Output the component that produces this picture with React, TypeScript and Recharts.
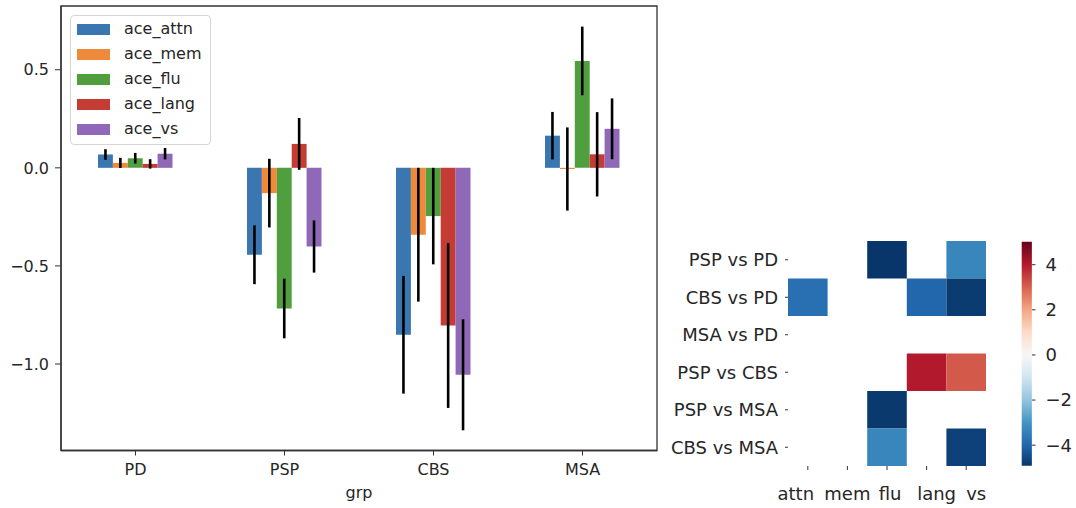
import React from "react";
import {
  Bar,
  BarChart,
  ErrorBar,
  Legend,
  ReferenceArea,
  Scatter,
  ScatterChart,
  XAxis,
  YAxis,
} from "recharts";

// ---- left panel: group means with error bars ----
const groups = ["PD", "PSP", "CBS", "MSA"];
const seriesKeys = ["ace_attn", "ace_mem", "ace_flu", "ace_lang", "ace_vs"];
const seriesColors = ["#3a76b0", "#f08a3b", "#519e3f", "#c53c34", "#8f69b8"];

const aceAttn = [0.068, -0.443, -0.851, 0.164];
const aceAttnErr = [0.027, 0.15, 0.3, 0.121];
const aceMem = [0.025, -0.129, -0.341, -0.006];
const aceMemErr = [0.026, 0.175, 0.341, 0.212];
const aceFlu = [0.049, -0.717, -0.246, 0.545];
const aceFluErr = [0.027, 0.152, 0.246, 0.175];
const aceLang = [0.02, 0.122, -0.804, 0.069];
const aceLangErr = [0.024, 0.132, 0.42, 0.215];
const aceVs = [0.072, -0.401, -1.055, 0.199];
const aceVsErr = [0.029, 0.133, 0.283, 0.155];

const yTicks = [-1, -0.5, 0, 0.5];
const Y_MIN = -1.441;
const Y_MAX = 0.825;

// ---- right panel: heatmap of contrasts ----
const contrasts = ["PSP vs PD", "CBS vs PD", "MSA vs PD", "PSP vs CBS", "PSP vs MSA", "CBS vs MSA"];
const domains = ["attn", "mem", "flu", "lang", "vs"];
const tValues: (number | null)[][] = [
  [null, null, -4.9, null, -3.3],
  [-3.8, null, null, -4.0, -4.8],
  [null, null, null, null, null],
  [null, null, null, 4.0, 3.1],
  [null, null, -4.85, null, null],
  [null, null, -3.3, null, -4.7],
];
const cbarTicks = [-4, -2, 0, 2, 4];
const CB_MIN = -4.91;
const CB_MAX = 5.02;

const means = [aceAttn, aceMem, aceFlu, aceLang, aceVs];
const errs = [aceAttnErr, aceMemErr, aceFluErr, aceLangErr, aceVsErr];

const barData = groups.map((grp, i) => {
  const row: Record<string, string | number> = { grp };
  seriesKeys.forEach((k, s) => {
    row[k] = means[s][i];
    row[k + "_err"] = errs[s][i];
  });
  return row;
});

const cells: { x: number; y: number; v: number }[] = [];
tValues.forEach((r, y) =>
  r.forEach((v, x) => {
    if (v !== null) cells.push({ x, y, v });
  })
);

const cbarData = [{ c: "cbar", range: [CB_MIN, CB_MAX] }];

const TEXT = "#262626";
const fmt = (v: number) => (v < 0 ? "\u2212" : "") + Math.abs(v).toFixed(1);
const fmtInt = (v: number) => (v < 0 ? "\u2212" : "") + Math.abs(v);

// RdBu_r, centred on zero
const rdbu = ["#053061", "#2166ac", "#4393c3", "#92c5de", "#d1e5f0", "#f7f7f7", "#fddbc7", "#f4a582", "#d6604d", "#b2182b", "#67001f"];
const VR = Math.max(CB_MAX, -CB_MIN);
const hex = (h: string) => [1, 3, 5].map((i) => parseInt(h.slice(i, i + 2), 16));
function cmap(v: number) {
  const t = Math.min(1, Math.max(0, (v + VR) / (2 * VR)));
  const p = t * 10;
  const i = Math.min(9, Math.floor(p));
  const f = p - i;
  const a = hex(rdbu[i]);
  const b = hex(rdbu[i + 1]);
  const c = a.map((x, j) => Math.round(x + (b[j] - x) * f));
  return `rgb(${c[0]},${c[1]},${c[2]})`;
}

const HM_W = 198;
const HM_H = 225;
const cellW = HM_W / domains.length;
const cellH = HM_H / contrasts.length;

const renderCell = (props: any) => {
  const { cx, cy, payload } = props;
  return <rect x={cx - cellW / 2} y={cy - cellH / 2} width={cellW} height={cellH} fill={cmap(payload.v)} />;
};

const labelShift = [-12, 0, 3, 10, 10];
const HeatXTick = (props: any) => {
  const { x, y, payload } = props;
  const i = payload.value;
  return (
    <text x={x + labelShift[i]} y={y + 29.5} textAnchor="middle" fontSize={18} fill={TEXT}>
      {domains[i]}
    </text>
  );
};

const LegendBox = () => (
  <div
    style={{
      position: "relative",
      width: 141,
      height: 130,
      boxSizing: "border-box",
      border: "1px solid #d6d6d6",
      borderRadius: 4,
      background: "rgba(255,255,255,0.85)",
      fontSize: 16,
      color: TEXT,
    }}
  >
    {seriesKeys.map((k, i) => (
      <div key={k} style={{ position: "absolute", left: 0, top: 1 + i * 25, height: 25, width: "100%" }}>
        <div style={{ position: "absolute", left: 6, top: 6.5, width: 33, height: 11.5, background: seriesColors[i] }} />
        <div style={{ position: "absolute", left: 53, top: 2, lineHeight: "19px", whiteSpace: "nowrap" }}>{k}</div>
      </div>
    ))}
  </div>
);

export default function App() {
  return (
    <div
      style={{
        position: "absolute",
        left: 0,
        top: 0,
        width: 1076,
        height: 508,
        background: "#fff",
        fontFamily: "'DejaVu Sans', sans-serif",
      }}
    >
      <svg width={0} height={0} style={{ position: "absolute" }}>
        <defs>
          <linearGradient id="cbar" x1="0" y1="0" x2="0" y2="1">
            {Array.from({ length: 41 }, (_, i) => (
              <stop key={i} offset={i / 40} stopColor={cmap(CB_MAX - ((CB_MAX - CB_MIN) * i) / 40)} />
            ))}
          </linearGradient>
        </defs>
      </svg>

      <div style={{ position: "absolute", left: 0, top: 0 }}>
        <BarChart
          width={680}
          height={508}
          data={barData}
          margin={{ top: 6, right: 23, bottom: 0, left: 0 }}
          barCategoryGap="25%"
          barGap={0}
        >
          <XAxis
            dataKey="grp"
            height={57.5}
            tickSize={5}
            tickMargin={8}
            axisLine={{ stroke: "#333", strokeWidth: 1.3 }}
            tickLine={{ stroke: "#333" }}
            tick={{ fontSize: 16, fill: TEXT }}
            label={{ value: "grp", position: "insideBottom", offset: 10, fontSize: 16, fill: TEXT }}
          />
          <YAxis
            type="number"
            domain={[Y_MIN, Y_MAX]}
            ticks={yTicks}
            width={61}
            tickSize={6}
            tickMargin={6}
            tickFormatter={fmt}
            axisLine={{ stroke: "#333", strokeWidth: 1.3 }}
            tickLine={{ stroke: "#333" }}
            tick={{ fontSize: 16, fill: TEXT }}
          />
          {seriesKeys.map((k, i) => (
            <Bar key={k} dataKey={k} fill={seriesColors[i]} barSize={14.9} isAnimationActive={false}>
              <ErrorBar dataKey={k + "_err"} width={0} stroke="#000" strokeWidth={2.6} />
            </Bar>
          ))}
          <ReferenceArea y1={Y_MIN} y2={Y_MAX} fill="none" stroke="#333" strokeWidth={1.3} />
          <Legend
            layout="vertical"
            align="center"
            verticalAlign="middle"
            content={() => <LegendBox />}
            wrapperStyle={{ left: 70, top: 15, width: 141, height: 130 }}
          />
        </BarChart>
      </div>

      <div style={{ position: "absolute", left: 660, top: 220 }}>
        <ScatterChart width={340} height={288} margin={{ top: 21, right: 14, bottom: 0, left: 0 }}>
          <XAxis
            type="number"
            dataKey="x"
            domain={[-0.5, 4.5]}
            ticks={[0, 1, 2, 3, 4]}
            interval={0}
            height={42}
            axisLine={false}
            tickSize={4}
            tickMargin={0}
            tickLine={{ stroke: "#333" }}
            tick={<HeatXTick />}
          />
          <YAxis
            type="number"
            dataKey="y"
            domain={[-0.5, 5.5]}
            reversed
            ticks={[0, 1, 2, 3, 4, 5]}
            interval={0}
            width={128}
            axisLine={false}
            tickSize={3}
            tickMargin={7}
            tickLine={{ stroke: "#333" }}
            tickFormatter={(i: number) => contrasts[i]}
            tick={{ fontSize: 18, fill: TEXT }}
          />
          <Scatter data={cells} shape={renderCell} isAnimationActive={false} />
        </ScatterChart>
      </div>

      <div style={{ position: "absolute", left: 1000, top: 220 }}>
        <BarChart
          width={76}
          height={288}
          data={cbarData}
          margin={{ top: 21.7, right: 0, bottom: 42.3, left: 20.7 }}
          barCategoryGap={0}
        >
          <XAxis dataKey="c" hide />
          <YAxis
            type="number"
            orientation="right"
            domain={[CB_MIN, CB_MAX]}
            ticks={cbarTicks}
            interval={0}
            width={44}
            axisLine={false}
            tickSize={3.5}
            tickMargin={10}
            tickLine={{ stroke: "#333" }}
            tickFormatter={fmtInt}
            tick={{ fontSize: 18, fill: TEXT }}
          />
          <Bar dataKey="range" fill="url(#cbar)" barSize={11.3} isAnimationActive={false} />
        </BarChart>
      </div>
    </div>
  );
}
